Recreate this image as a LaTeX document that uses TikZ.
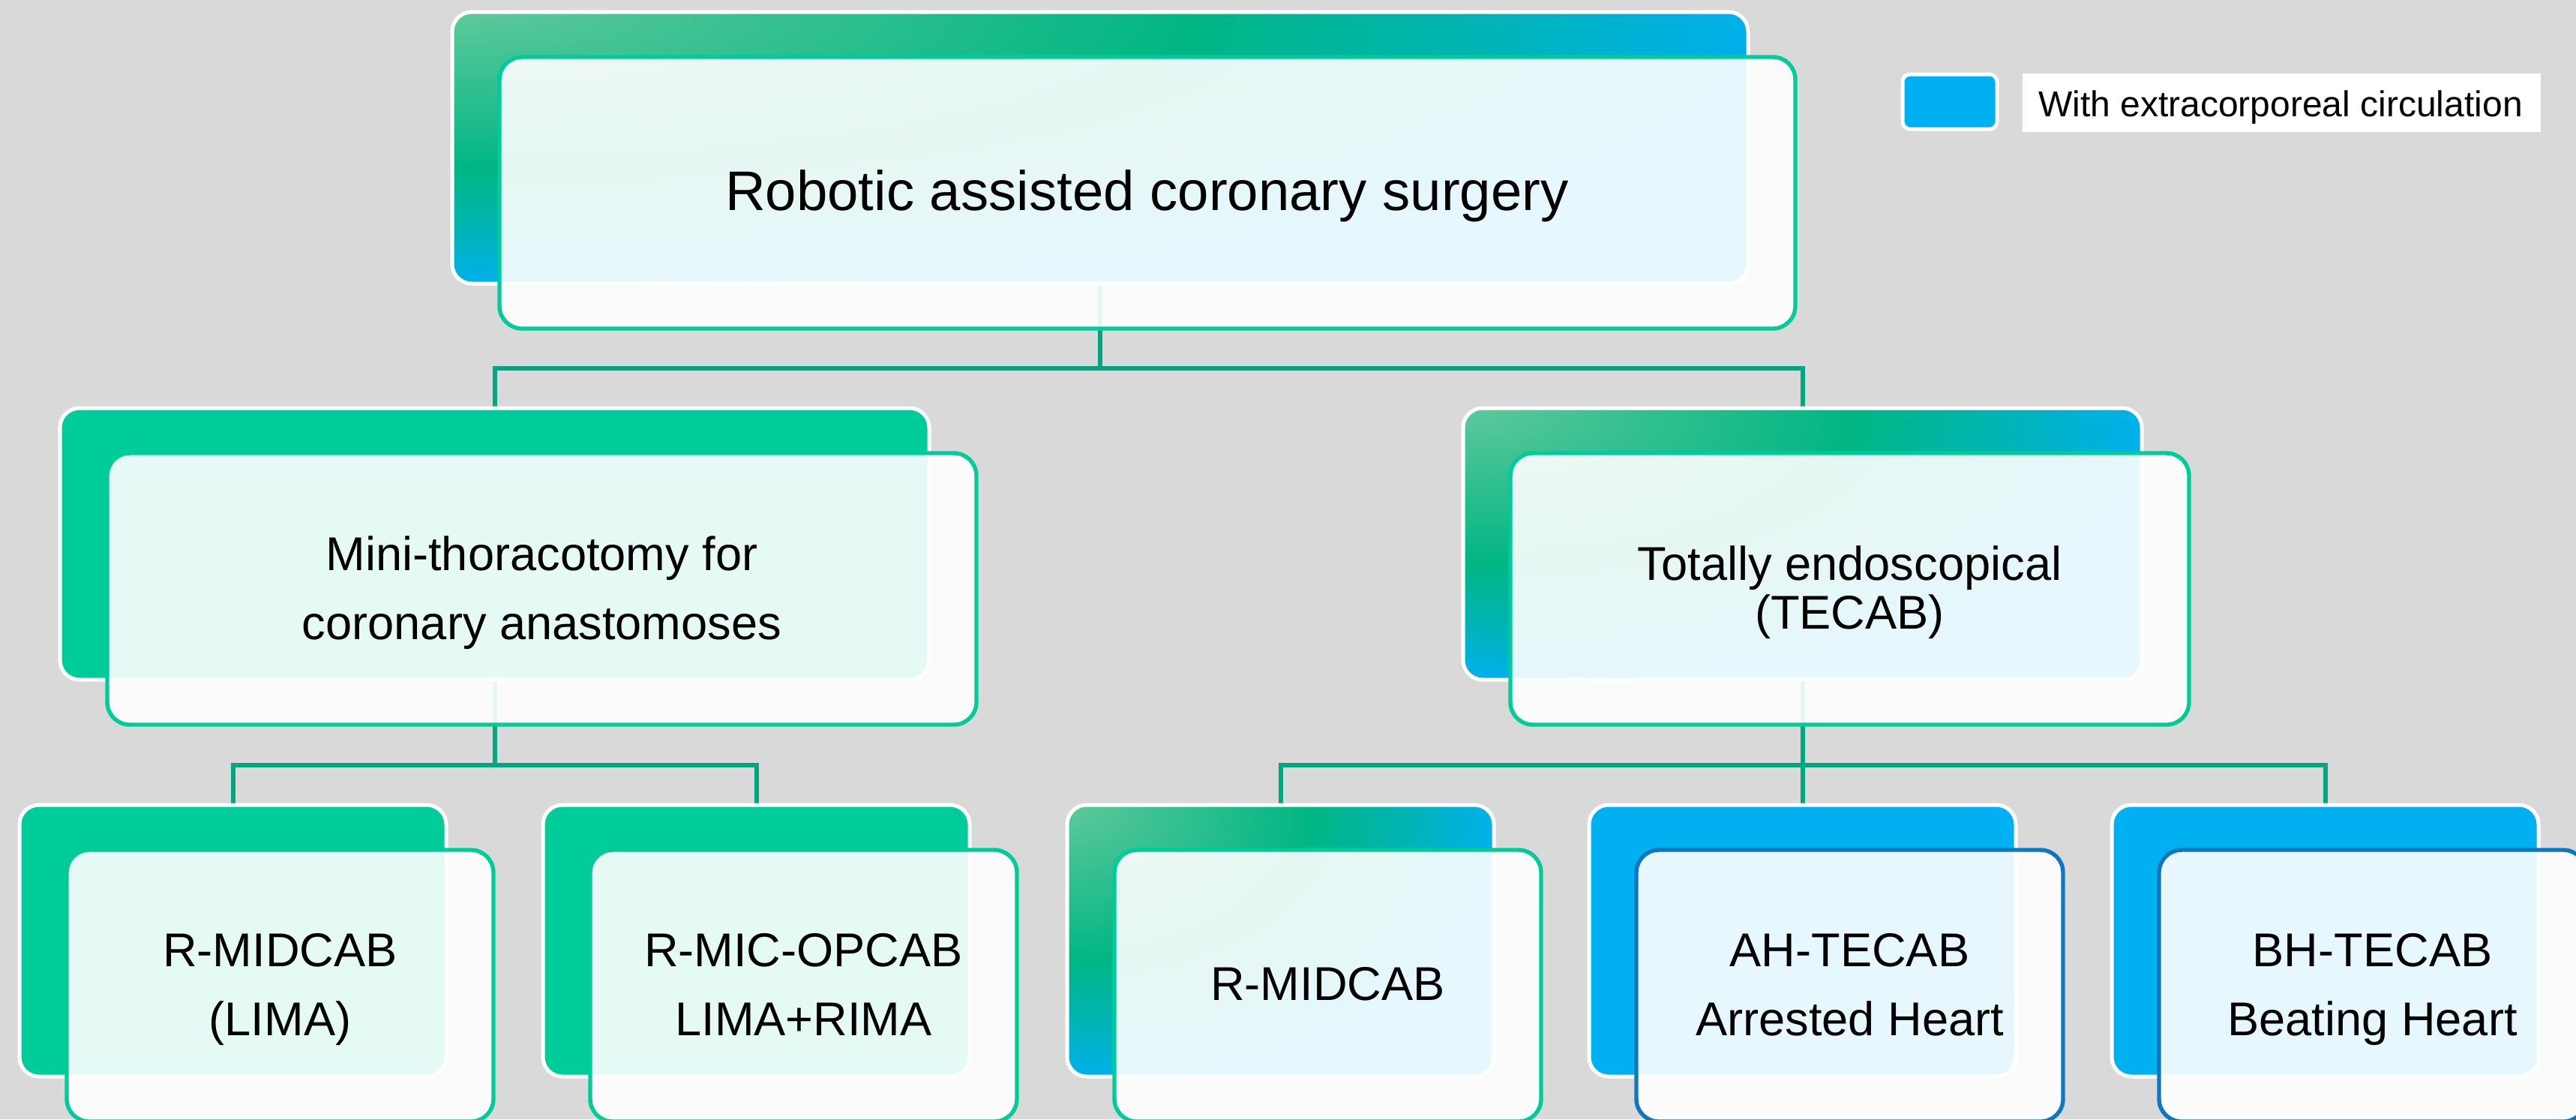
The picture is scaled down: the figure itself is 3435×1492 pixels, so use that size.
\documentclass[tikz,border=0pt]{standalone}
\usepackage{fontspec}
\setmainfont{Liberation Sans}
\usetikzlibrary{calc}
\definecolor{bgc}{HTML}{D9D9D9}
\definecolor{cgreen}{HTML}{00CC99}
\definecolor{cblue}{HTML}{00B0F0}
\definecolor{cdblue}{HTML}{0D78C0}
\definecolor{cline}{HTML}{00A680}
\definecolor{gA}{HTML}{5EC89B}
\definecolor{gB}{HTML}{00B683}
\definecolor{gC}{HTML}{00B4B2}
\definecolor{gD}{HTML}{00B0EC}
\pgfdeclareradialshading{cardgrad}{\pgfpoint{-25bp}{25bp}}{color(0bp)=(gA); color(27bp)=(gB); color(37bp)=(gC); color(47bp)=(gD); color(400bp)=(gD)}
\pgfdeclarelayer{bg}
\pgfsetlayers{bg,main}
\tikzset{
  px/.style 2 args={minimum width=#1*0.25pt, minimum height=#2*0.25pt},
  backcard/.style={rectangle, anchor=north west, outer sep=0pt, inner sep=0pt, draw=white, line width=1.25pt, rounded corners=6.5pt},
  greenback/.style={backcard, fill=cgreen},
  blueback/.style={backcard, fill=cblue},
  gradback/.style={backcard, shade, shading=cardgrad},
  frontcard/.style={rectangle, anchor=north west, outer sep=0pt, inner sep=0pt, fill=white, fill opacity=0.9, line width=1.35pt, rounded corners=7.5pt},
  gfront/.style={frontcard, draw=cgreen},
  bfront/.style={frontcard, draw=cdblue},
  conn/.style={draw=cline, line width=1.5pt},
  lbl/.style={anchor=base, inner sep=0pt, text=black, font=\fontsize{15.8pt}{18pt}\selectfont},
  lbltop/.style={lbl, font=\fontsize{18.6pt}{22pt}\selectfont},
  lblleg/.style={lbl, font=\fontsize{12pt}{14pt}\selectfont},
}
\begin{document}
\begin{tikzpicture}[x=0.25pt, y=-0.25pt]
\useasboundingbox (0,0) rectangle (3435,1492);
\begin{pgfonlayer}{bg}
\fill[bgc] (0,0) rectangle (3435,1492);
\end{pgfonlayer}

% top
\node[gradback, px={1728}{362}] (b0) at (603,16) {};
\node[gfront, px={1728}{362}] (f0) at (666,76) {};
% level 2
\node[greenback, px={1159}{362}] (b1) at (80,544) {};
\node[gfront, px={1159}{362}] (f1) at (143,604) {};
\node[gradback, px={905}{362}] (b2) at (1951,544) {};
\node[gfront, px={905}{362}] (f2) at (2014,604) {};
% level 3
\node[greenback, px={569}{362}] (b3) at (26,1073) {};
\node[gfront, px={569}{362}] (f3) at (89,1133) {};
\node[greenback, px={569}{362}] (b4) at (724,1073) {};
\node[gfront, px={569}{362}] (f4) at (787,1133) {};
\node[gradback, px={569}{362}] (b5) at (1423,1073) {};
\node[gfront, px={569}{362}] (f5) at (1486,1133) {};
\node[blueback, px={569}{362}] (b6) at (2119,1073) {};
\node[bfront, px={569}{362}] (f6) at (2182,1133) {};
\node[blueback, px={569}{362}] (b7) at (2816,1073) {};
\node[bfront, px={569}{362}] (f7) at (2879,1133) {};

% legend
\node[backcard, fill=cblue, rounded corners=2.5pt, px={126}{73}] (lg) at (2537,99) {};
\node[rectangle, anchor=north west, fill=white, inner sep=0pt, outer sep=0pt, px={691}{78}] (lgbox) at (2697,98) {};
\node[lblleg] (lgt) at (3041,155) {With extracorporeal circulation};

% texts
\node[lbltop] (t0) at (1529.5,280) {Robotic assisted coronary surgery};
\node[lbl] (t1a) at (722.5,760) {Mini-thoracotomy for};
\node[lbl] (t1b) at (722.5,852) {coronary anastomoses};
\node[lbl] (t2a) at (2466.5,773) {Totally endoscopical};
\node[lbl] (t2b) at (2466.5,838) {(TECAB)};
\node[lbl] (t3a) at (373.5,1288) {R-MIDCAB};
\node[lbl] (t3b) at (373.5,1380) {(LIMA)};
\node[lbl] (t4a) at (1071.5,1288) {R-MIC-OPCAB};
\node[lbl] (t4b) at (1071.5,1380) {LIMA+RIMA};
\node[lbl] (t5) at (1770.5,1333) {R-MIDCAB};
\node[lbl] (t6a) at (2466.5,1288) {AH-TECAB};
\node[lbl] (t6b) at (2466.5,1380) {Arrested Heart};
\node[lbl] (t7a) at (3163.5,1288) {BH-TECAB};
\node[lbl] (t7b) at (3163.5,1380) {Beating Heart};

% connectors
\begin{pgfonlayer}{bg}
\coordinate (j0) at ($(b0.south)+(0,113)$);
\coordinate (j1) at ($(b1.south)+(0,114)$);
\coordinate (j2) at ($(b2.south)+(0,114)$);
\draw[conn] (b0.south) -- (j0) -| (b1.north);
\draw[conn] (j0) -| (b2.north);
\draw[conn] (b1.south) -- (j1) -| (b3.north);
\draw[conn] (j1) -| (b4.north);
\draw[conn] (b2.south) -- (j2) -| (b5.north);
\draw[conn] (j2) -| (b6.north);
\draw[conn] (j2) -| (b7.north);
\end{pgfonlayer}
\end{tikzpicture}
\end{document}
